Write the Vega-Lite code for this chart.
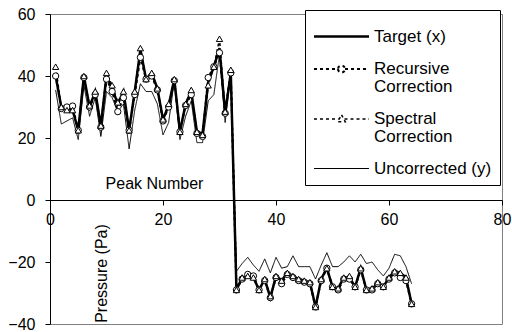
{
  "$schema": "https://vega.github.io/schema/vega-lite/v6.json",
  "width": 452,
  "height": 310,
  "autosize": {"type": "none"},
  "padding": {"left": 50, "top": 14, "right": 10, "bottom": 8},
  "background": "white",
  "config": {
    "font": "Liberation Sans",
    "view": {"stroke": "#808080", "strokeWidth": 1},
    "axis": {"labelFont": "Liberation Sans", "titleFont": "Liberation Sans", "labelColor": "black", "titleColor": "black", "grid": false, "domainColor": "black", "tickColor": "black", "domainWidth": 1, "tickWidth": 1}
  },
  "data": {
    "values": [
      {"peak": 1, "Target (x)": 40, "Recursive Correction": 40, "Spectral Correction": 43, "Uncorrected (y)": 35.5},
      {"peak": 2, "Target (x)": 30, "Recursive Correction": 29.5, "Spectral Correction": 30, "Uncorrected (y)": 24.5},
      {"peak": 3, "Target (x)": 30, "Recursive Correction": 30, "Spectral Correction": 29, "Uncorrected (y)": 25.5},
      {"peak": 4, "Target (x)": 29, "Recursive Correction": 30.3, "Spectral Correction": 29, "Uncorrected (y)": 26.5},
      {"peak": 5, "Target (x)": 22.5, "Recursive Correction": 22.5, "Spectral Correction": 22.5, "Uncorrected (y)": 19.5},
      {"peak": 6, "Target (x)": 40, "Recursive Correction": 39.5, "Spectral Correction": 40, "Uncorrected (y)": 37},
      {"peak": 7, "Target (x)": 30, "Recursive Correction": 30, "Spectral Correction": 30.5, "Uncorrected (y)": 27},
      {"peak": 8, "Target (x)": 35, "Recursive Correction": 34, "Spectral Correction": 35, "Uncorrected (y)": 33},
      {"peak": 9, "Target (x)": 24, "Recursive Correction": 23.5, "Spectral Correction": 24, "Uncorrected (y)": 20.5},
      {"peak": 10, "Target (x)": 40, "Recursive Correction": 39, "Spectral Correction": 41, "Uncorrected (y)": 35},
      {"peak": 11, "Target (x)": 36, "Recursive Correction": 35, "Spectral Correction": 37, "Uncorrected (y)": 33},
      {"peak": 12, "Target (x)": 31, "Recursive Correction": 28.5, "Spectral Correction": 31.5, "Uncorrected (y)": 28.5},
      {"peak": 13, "Target (x)": 35, "Recursive Correction": 33, "Spectral Correction": 35, "Uncorrected (y)": 31},
      {"peak": 14, "Target (x)": 22.5, "Recursive Correction": 22.5, "Spectral Correction": 22.5, "Uncorrected (y)": 16.5},
      {"peak": 15, "Target (x)": 35, "Recursive Correction": 34, "Spectral Correction": 35, "Uncorrected (y)": 29},
      {"peak": 16, "Target (x)": 48.5, "Recursive Correction": 46, "Spectral Correction": 49, "Uncorrected (y)": 37.5},
      {"peak": 17, "Target (x)": 39, "Recursive Correction": 39, "Spectral Correction": 39, "Uncorrected (y)": 35},
      {"peak": 18, "Target (x)": 41, "Recursive Correction": 40, "Spectral Correction": 41, "Uncorrected (y)": 35},
      {"peak": 19, "Target (x)": 36, "Recursive Correction": 35.5, "Spectral Correction": 36, "Uncorrected (y)": 31},
      {"peak": 20, "Target (x)": 26, "Recursive Correction": 25.5, "Spectral Correction": 26, "Uncorrected (y)": 21},
      {"peak": 21, "Target (x)": 30.5, "Recursive Correction": 30, "Spectral Correction": 31, "Uncorrected (y)": 25},
      {"peak": 22, "Target (x)": 39, "Recursive Correction": 38.5, "Spectral Correction": 39, "Uncorrected (y)": 38.5},
      {"peak": 23, "Target (x)": 22, "Recursive Correction": 22, "Spectral Correction": 22, "Uncorrected (y)": 19.5},
      {"peak": 24, "Target (x)": 31, "Recursive Correction": 30.5, "Spectral Correction": 31, "Uncorrected (y)": 27},
      {"peak": 25, "Target (x)": 35, "Recursive Correction": 34, "Spectral Correction": 35.5, "Uncorrected (y)": 32},
      {"peak": 26, "Target (x)": 22, "Recursive Correction": 21.5, "Spectral Correction": 22, "Uncorrected (y)": 18.5},
      {"peak": 27, "Target (x)": 21.5, "Recursive Correction": 20.5, "Spectral Correction": 21, "Uncorrected (y)": 18.5},
      {"peak": 28, "Target (x)": 38, "Recursive Correction": 39.5, "Spectral Correction": 37, "Uncorrected (y)": 32},
      {"peak": 29, "Target (x)": 43, "Recursive Correction": 43, "Spectral Correction": 43, "Uncorrected (y)": 34},
      {"peak": 30, "Target (x)": 49, "Recursive Correction": 47.5, "Spectral Correction": 52, "Uncorrected (y)": 47},
      {"peak": 31, "Target (x)": 28, "Recursive Correction": 28, "Spectral Correction": 28.5, "Uncorrected (y)": 25},
      {"peak": 32, "Target (x)": 41, "Recursive Correction": 41, "Spectral Correction": 42, "Uncorrected (y)": 41},
      {"peak": 33, "Target (x)": -29, "Recursive Correction": -29, "Spectral Correction": -29, "Uncorrected (y)": -23},
      {"peak": 34, "Target (x)": -25, "Recursive Correction": -25.5, "Spectral Correction": -25, "Uncorrected (y)": -20.5},
      {"peak": 35, "Target (x)": -24.5, "Recursive Correction": -24, "Spectral Correction": -24.5, "Uncorrected (y)": -18.5},
      {"peak": 36, "Target (x)": -25, "Recursive Correction": -24.5, "Spectral Correction": -25, "Uncorrected (y)": -21},
      {"peak": 37, "Target (x)": -29, "Recursive Correction": -29, "Spectral Correction": -29, "Uncorrected (y)": -23},
      {"peak": 38, "Target (x)": -25.5, "Recursive Correction": -26, "Spectral Correction": -25.5, "Uncorrected (y)": -19},
      {"peak": 39, "Target (x)": -31.5, "Recursive Correction": -31.5, "Spectral Correction": -31, "Uncorrected (y)": -23.5},
      {"peak": 40, "Target (x)": -24.5, "Recursive Correction": -25, "Spectral Correction": -24.5, "Uncorrected (y)": -18.5},
      {"peak": 41, "Target (x)": -26, "Recursive Correction": -27, "Spectral Correction": -26, "Uncorrected (y)": -22},
      {"peak": 42, "Target (x)": -23.5, "Recursive Correction": -24, "Spectral Correction": -23.5, "Uncorrected (y)": -21.5},
      {"peak": 43, "Target (x)": -24.5, "Recursive Correction": -25, "Spectral Correction": -24.5, "Uncorrected (y)": -18},
      {"peak": 44, "Target (x)": -25.5, "Recursive Correction": -26, "Spectral Correction": -25.5, "Uncorrected (y)": -21.5},
      {"peak": 45, "Target (x)": -26, "Recursive Correction": -26.5, "Spectral Correction": -26, "Uncorrected (y)": -21.5},
      {"peak": 46, "Target (x)": -26.5, "Recursive Correction": -27, "Spectral Correction": -26.5, "Uncorrected (y)": -21.5},
      {"peak": 47, "Target (x)": -34.5, "Recursive Correction": -34.5, "Spectral Correction": -34.5, "Uncorrected (y)": -25.5},
      {"peak": 48, "Target (x)": -25.5, "Recursive Correction": -26, "Spectral Correction": -25.5, "Uncorrected (y)": -21},
      {"peak": 49, "Target (x)": -22, "Recursive Correction": -22, "Spectral Correction": -22, "Uncorrected (y)": -17},
      {"peak": 50, "Target (x)": -28, "Recursive Correction": -28, "Spectral Correction": -28, "Uncorrected (y)": -21.5},
      {"peak": 51, "Target (x)": -28.5, "Recursive Correction": -29, "Spectral Correction": -28.5, "Uncorrected (y)": -21.5},
      {"peak": 52, "Target (x)": -25, "Recursive Correction": -25.5, "Spectral Correction": -25, "Uncorrected (y)": -20},
      {"peak": 53, "Target (x)": -25, "Recursive Correction": -25.5, "Spectral Correction": -24.5, "Uncorrected (y)": -18},
      {"peak": 54, "Target (x)": -28, "Recursive Correction": -28, "Spectral Correction": -28, "Uncorrected (y)": -20},
      {"peak": 55, "Target (x)": -22, "Recursive Correction": -22.5, "Spectral Correction": -22, "Uncorrected (y)": -17.5},
      {"peak": 56, "Target (x)": -29, "Recursive Correction": -29, "Spectral Correction": -29, "Uncorrected (y)": -20.5},
      {"peak": 57, "Target (x)": -29, "Recursive Correction": -29, "Spectral Correction": -28.5, "Uncorrected (y)": -20},
      {"peak": 58, "Target (x)": -26.5, "Recursive Correction": -27, "Spectral Correction": -26.5, "Uncorrected (y)": -22.5},
      {"peak": 59, "Target (x)": -28, "Recursive Correction": -28, "Spectral Correction": -28, "Uncorrected (y)": -24.5},
      {"peak": 60, "Target (x)": -25, "Recursive Correction": -25.5, "Spectral Correction": -25, "Uncorrected (y)": -22},
      {"peak": 61, "Target (x)": -23, "Recursive Correction": -23.5, "Spectral Correction": -23, "Uncorrected (y)": -17.5},
      {"peak": 62, "Target (x)": -23.5, "Recursive Correction": -25, "Spectral Correction": -23.5, "Uncorrected (y)": -18},
      {"peak": 63, "Target (x)": -25, "Recursive Correction": -26, "Spectral Correction": -25, "Uncorrected (y)": -21.5},
      {"peak": 64, "Target (x)": -33.5, "Recursive Correction": -33.5, "Spectral Correction": -33.5, "Uncorrected (y)": -27}
    ]
  },
  "transform": [
    {"fold": ["Target (x)", "Recursive Correction", "Spectral Correction", "Uncorrected (y)"], "as": ["series", "value"]}
  ],
  "encoding": {
    "x": {
      "field": "peak", "type": "quantitative",
      "scale": {"domain": [0, 80], "nice": false, "zero": false},
      "axis": {
        "values": [0, 20, 40, 60, 80], "offset": -124, "tickSize": 5, "labelFontSize": 16, "labelPadding": 6, "labelFlush": false,
        "title": "Peak Number", "titleFontSize": 16, "titleFontWeight": "normal",
        "titleX": 104, "titleY": -12, "titleAlign": "center", "titleBaseline": "alphabetic", "titleAnchor": null
      }
    },
    "y": {
      "field": "value", "type": "quantitative",
      "scale": {"domain": [-40, 60], "nice": false},
      "axis": {
        "values": [-40, -20, 0, 20, 40, 60], "tickSize": 5, "labelFontSize": 16, "labelPadding": 10,
        "title": "Pressure (Pa)", "titleFontSize": 16, "titleFontWeight": "normal",
        "titleX": 56, "titleY": 259, "titleAlign": "center", "titleBaseline": "alphabetic", "titleAngle": -90, "titleAnchor": null
      }
    }
  },
  "layer": [
    {
      "mark": {"type": "line", "color": "black", "clip": false},
      "encoding": {
        "strokeDash": {
          "field": "series", "type": "nominal",
          "scale": {"domain": ["Target (x)", "Recursive Correction", "Spectral Correction", "Uncorrected (y)"], "range": [[1, 0], [3, 3], [3, 3], [1, 0]]},
          "legend": {
            "title": " ", "titleFontSize": 5, "titlePadding": 2, "orient": "none", "legendX": 255, "legendY": -4,
            "strokeColor": "black", "fillColor": "white", "padding": 8,
            "symbolType": "stroke", "symbolSize": 400, "symbolStrokeColor": "black", "symbolStrokeWidth": 1, "symbolOffset": 17,
            "labelFont": "Liberation Sans", "labelFontSize": 17, "labelColor": "black", "labelLimit": 300, "labelOffset": 21,
            "rowPadding": 13,
            "labelExpr": "datum.label == 'Recursive Correction' ? ['Recursive', 'Correction'] : datum.label == 'Spectral Correction' ? ['Spectral', 'Correction'] : datum.label",
            "encode": {
              "symbols": {"update": {
                "shape": {"signal": "datum.value == 'Recursive Correction' ? 'M-2.75,0H-0.35M0.35,0H2.75M-0.35,0A0.35,0.35,0,1,0,0.35,0A0.35,0.35,0,1,0,-0.35,0' : datum.value == 'Spectral Correction' ? 'M-2.75,0H-0.3M0.3,0H2.75M0,-0.42L0.38,0.28L-0.38,0.28Z' : 'M-2.75,0H2.75'"},
                "strokeWidth": {"signal": "datum.value == 'Target (x)' ? 2.5 : 1"}
              }},
              "labels": {"update": {"lineHeight": {"value": 18}}}
            }
          }
        },
        "strokeWidth": {
          "field": "series", "type": "ordinal",
          "scale": {"domain": ["Target (x)", "Recursive Correction", "Spectral Correction", "Uncorrected (y)"], "range": [2.5, 1, 1, 1]},
          "legend": null
        }
      }
    },
    {
      "transform": [{"filter": "datum.series == 'Recursive Correction' || datum.series == 'Spectral Correction'"}],
      "mark": {"type": "point", "filled": true, "fill": "white", "stroke": "black", "strokeWidth": 1, "size": 40, "opacity": 1, "clip": false},
      "encoding": {
        "shape": {
          "field": "series", "type": "nominal",
          "scale": {"domain": ["Recursive Correction", "Spectral Correction"], "range": ["circle", "triangle-up"]},
          "legend": null
        }
      }
    }
  ]
}
